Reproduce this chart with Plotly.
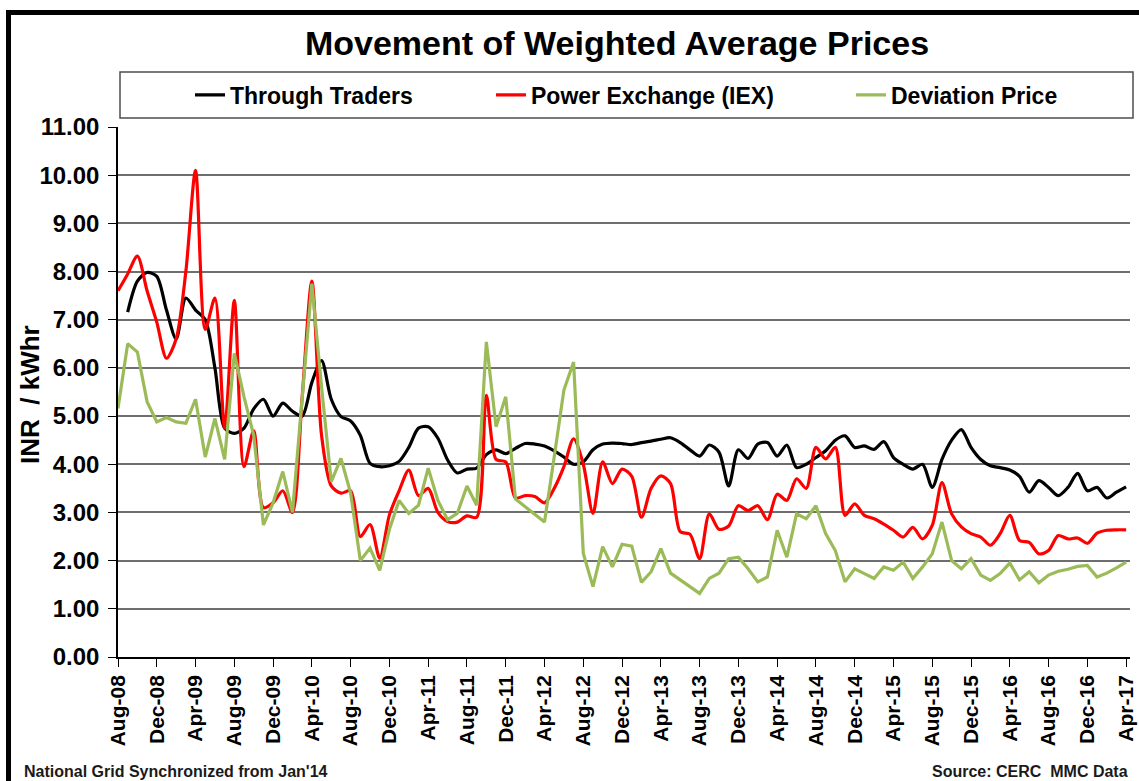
import pandas as pd
import plotly.graph_objects as go

# ---- data ----
months = list(pd.date_range("2008-08-01", periods=105, freq="MS").strftime("%b-%y"))
tick_labels = months[::4]

through_traders = [
    None, 7.16, 7.80, 7.98, 7.90, 7.20, 6.60, 7.45, 7.20, 7.00,
    6.00, 4.75, 4.64, 4.75, 5.15, 5.35, 5.00, 5.27, 5.10, 5.00,
    5.70, 6.15, 5.35, 4.99, 4.90, 4.60, 4.02, 3.95, 3.97, 4.06,
    4.35, 4.75, 4.78, 4.54, 4.09, 3.82, 3.90, 3.92, 4.20, 4.30,
    4.22, 4.33, 4.43, 4.42, 4.38, 4.28, 4.15, 4.00, 4.05, 4.30,
    4.42, 4.44, 4.43, 4.41, 4.45, 4.48, 4.52, 4.55, 4.45, 4.30,
    4.17, 4.40, 4.25, 3.55, 4.30, 4.12, 4.42, 4.45, 4.17, 4.40,
    3.93, 4.00, 4.14, 4.28, 4.50, 4.59, 4.35, 4.38, 4.31, 4.47,
    4.14, 4.00, 3.90, 4.00, 3.52, 4.10, 4.50, 4.72, 4.35, 4.10,
    3.97, 3.93, 3.88, 3.75, 3.42, 3.66, 3.52, 3.35, 3.52, 3.81,
    3.45, 3.52, 3.30, 3.42, 3.53,
]

power_exchange = [
    7.60, 7.95, 8.32, 7.60, 6.95, 6.20, 6.60, 8.00, 10.10, 6.80,
    7.45, 4.75, 7.40, 3.95, 4.70, 3.10, 3.20, 3.45, 3.00, 5.40,
    7.80, 4.60, 3.55, 3.40, 3.45, 2.50, 2.75, 2.05, 2.95, 3.45,
    3.88, 3.35, 3.50, 3.00, 2.81, 2.80, 2.93, 2.90, 5.43, 4.10,
    4.05, 3.30, 3.35, 3.33, 3.20, 3.50, 3.95, 4.53, 4.00, 2.98,
    4.05, 3.60, 3.90, 3.75, 2.90, 3.50, 3.76, 3.60, 2.60, 2.55,
    2.04, 2.97, 2.65, 2.72, 3.14, 3.04, 3.14, 2.85, 3.38, 3.25,
    3.70, 3.50, 4.35, 4.11, 4.35, 2.94, 3.18, 2.94, 2.87, 2.76,
    2.63, 2.49, 2.69, 2.45, 2.73, 3.62, 2.97, 2.70, 2.56, 2.49,
    2.32, 2.56, 2.94, 2.42, 2.38, 2.14, 2.21, 2.52, 2.45, 2.47,
    2.36, 2.57, 2.63, 2.64, 2.64,
]

deviation_price = [
    5.16, 6.50, 6.33, 5.30, 4.88, 4.97, 4.88, 4.85, 5.35, 4.15,
    4.95, 4.10, 6.30, 5.40, 4.60, 2.74, 3.20, 3.85, 3.00, 5.40,
    7.75, 5.60, 3.64, 4.12, 3.40, 2.00, 2.26, 1.80, 2.65, 3.25,
    2.98, 3.15, 3.92, 3.25, 2.85, 2.98, 3.55, 3.15, 6.54, 4.78,
    5.40, 3.28, 3.12, 2.98, 2.80, 4.15, 5.54, 6.12, 2.15, 1.46,
    2.29, 1.87, 2.34, 2.30, 1.55, 1.77, 2.25, 1.74, 1.60, 1.45,
    1.32, 1.63, 1.74, 2.04, 2.07, 1.83, 1.56, 1.66, 2.63, 2.07,
    2.97, 2.87, 3.14, 2.56, 2.21, 1.56, 1.83, 1.73, 1.63, 1.87,
    1.80, 1.97, 1.63, 1.87, 2.14, 2.80, 2.00, 1.83, 2.04, 1.70,
    1.59, 1.73, 1.95, 1.60, 1.77, 1.54, 1.70, 1.78, 1.82, 1.88,
    1.90, 1.66, 1.74, 1.85, 1.97,
]

y_ticks = [0, 1, 2, 3, 4, 5, 6, 7, 8, 9, 10, 11]

FONT = "Liberation Sans, Arial, sans-serif"

# ---- geometry (pixels) ----
W, H = 1139, 781
L, R, T, B = 118, 9, 127, 124
PW, PH = W - L - R, H - T - B


def px(x):
    return (x - L) / PW


def py(y):
    return (H - B - y) / PH


fig = go.Figure()
fig.add_trace(go.Scatter(
    x=months, y=through_traders, name="<b>Through Traders</b>", mode="lines",
    line=dict(color="#000000", width=3.2, shape="spline", smoothing=0.8),
    legend="legend",
))
fig.add_trace(go.Scatter(
    x=months, y=power_exchange, name="<b>Power Exchange (IEX)</b>", mode="lines",
    line=dict(color="#ff0000", width=3.2, shape="spline", smoothing=0.8),
    legend="legend2",
))
fig.add_trace(go.Scatter(
    x=months, y=deviation_price, name="<b>Deviation Price</b>", mode="lines",
    line=dict(color="#9bbb59", width=3.2),
    legend="legend3",
))

leg_common = dict(
    orientation="h", yanchor="middle", xanchor="left",
    bgcolor="rgba(0,0,0,0)", borderwidth=0, itemwidth=30,
    font=dict(family=FONT, size=23, color="#000000"),
)
legend_y = py(95)
fig.update_layout(
    legend=dict(x=px(190), y=legend_y, **leg_common),
    legend2=dict(x=px(491), y=legend_y, **leg_common),
    legend3=dict(x=px(851), y=legend_y, **leg_common),
)

fig.update_layout(
    width=W, height=H,
    margin=dict(l=L, r=R, t=T, b=B, pad=0, autoexpand=False),
    paper_bgcolor="#ffffff", plot_bgcolor="#ffffff",
    font=dict(family=FONT, color="#000000"),
    title=dict(
        text="<b>Movement of Weighted Average Prices</b>",
        x=617 / W, xanchor="center", y=1 - 43 / H, yanchor="middle",
        yref="container", xref="container",
        font=dict(family=FONT, size=34, color="#000000"),
    ),
    showlegend=True,
    xaxis=dict(
        type="category", range=[0, 104.4], automargin=False,
        tickmode="array", tickvals=tick_labels, ticktext=[f"<b>{t}</b>" for t in tick_labels],
        tickangle=-90, ticks="outside", ticklen=8, tickwidth=1.2, tickcolor="#000000",
        tickfont=dict(family=FONT, size=21, color="#000000"),
        showgrid=False, showline=True, linecolor="#000000", linewidth=1.5,
        zeroline=False,
    ),
    yaxis=dict(
        range=[0, 11], automargin=False, tickmode="array", tickvals=y_ticks,
        ticktext=[f"<b>{v:.2f}</b>" for v in y_ticks],
        ticks="outside", ticklen=8, tickwidth=1.2, tickcolor="#000000",
        ticklabelstandoff=4,
        tickfont=dict(family=FONT, size=24, color="#000000"),
        showgrid=True, gridcolor="#6e6e6e", gridwidth=1.5,
        showline=True, linecolor="#000000", linewidth=1.5,
        zeroline=False,
    ),
)

# outer frame and legend box
fig.add_shape(type="rect", xref="paper", yref="paper",
              x0=px(8.5), x1=px(1175), y0=py(830), y1=py(12.5),
              line=dict(color="#000000", width=5), fillcolor="rgba(0,0,0,0)",
              layer="above")
fig.add_shape(type="rect", xref="paper", yref="paper",
              x0=px(120), x1=px(1133), y0=py(118), y1=py(72),
              line=dict(color="#4d4d4d", width=1.5), fillcolor="rgba(0,0,0,0)",
              layer="below")

# axis title and notes
fig.add_annotation(
    text="<b>INR  / kWhr</b>", textangle=-90, xref="paper", yref="paper",
    x=px(30), y=py(395), xanchor="center", yanchor="middle", showarrow=False,
    font=dict(family=FONT, size=26, color="#000000"),
)
fig.add_annotation(
    text="<b>National Grid Synchronized from Jan'14</b>", xref="paper", yref="paper",
    x=px(22), y=py(771), xanchor="left", yanchor="middle", showarrow=False,
    font=dict(family=FONT, size=16, color="#1a1a1a"),
)
fig.add_annotation(
    text="<b>Source: CERC\u00a0\u00a0MMC Data</b>", xref="paper", yref="paper",
    x=px(1130), y=py(771), xanchor="right", yanchor="middle", showarrow=False,
    font=dict(family=FONT, size=16, color="#1a1a1a"),
)

fig.write_html(
    "out.html",
    config={"displayModeBar": False},
    post_script="document.body.style.margin='0';document.body.style.overflow='hidden';",
)
